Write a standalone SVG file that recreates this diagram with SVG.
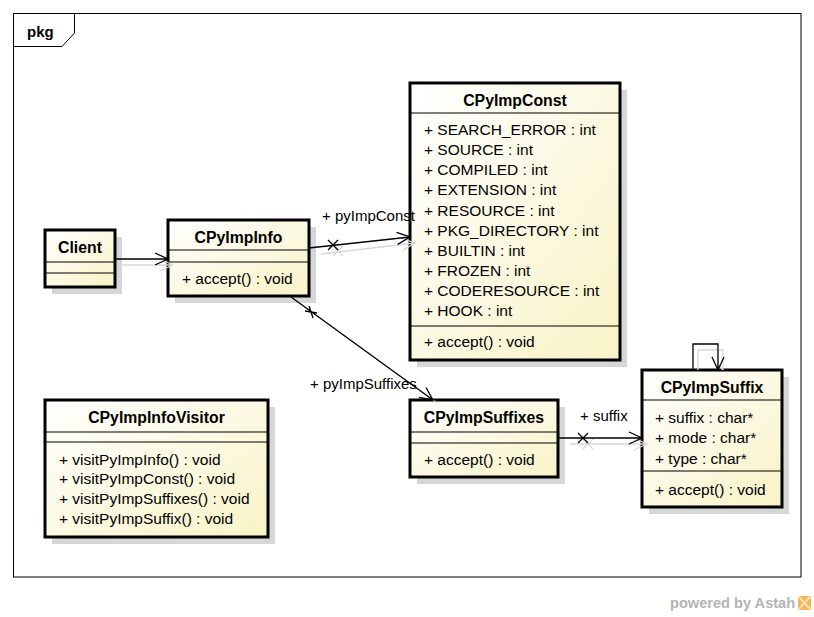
<svg xmlns="http://www.w3.org/2000/svg" width="814" height="617" viewBox="0 0 814 617">
<defs>
<linearGradient id="fill" x1="0" y1="0" x2="1" y2="1">
<stop offset="0" stop-color="#ffffff"/>
<stop offset="1" stop-color="#f8f3c6"/>
</linearGradient>
</defs>
<style>
.box{fill:url(#fill);stroke:#000;stroke-width:3}
.shadow{fill:#d6d6d6}
.sep{stroke:#000;stroke-width:1.2}
.name{font-family:"Liberation Sans",Arial,sans-serif;font-size:15.8px;font-weight:bold;text-anchor:middle;fill:#000}
.mem{font-family:"Liberation Sans",Arial,sans-serif;font-size:15.5px;fill:#000}
.lbl{font-family:"Liberation Sans",Arial,sans-serif;font-size:15px;fill:#000}
.ln{fill:none;stroke:#000;stroke-width:1.3}
.sh{fill:none;stroke:#d8d8d8;stroke-width:1.3}
</style>
<rect x="0" y="0" width="814" height="617" fill="#ffffff"/>
<g id="frame">
<rect x="13.5" y="13.5" width="787.5" height="563.5" fill="none" stroke="#000" stroke-width="1"/>
<path d="M13.5,46.5 H62 L74.5,33 V13.5" fill="none" stroke="#000" stroke-width="1"/>
<text x="27" y="37" font-family="Liberation Sans,Arial,sans-serif" font-size="15px" font-weight="bold">pkg</text>
</g>
<g id="Client">
<rect class="shadow" x="52" y="237" width="70" height="57"/>
<rect class="box" x="45" y="230" width="70" height="57"/>
<line class="sep" x1="45" y1="262" x2="115" y2="262"/>
<line class="sep" x1="45" y1="273" x2="115" y2="273"/>
<text class="name" x="80" y="253">Client</text>
</g>
<g id="CPyImpInfo">
<rect class="shadow" x="175" y="227" width="141" height="76"/>
<rect class="box" x="168" y="220" width="141" height="76"/>
<line class="sep" x1="168" y1="250" x2="309" y2="250"/>
<line class="sep" x1="168" y1="262" x2="309" y2="262"/>
<text class="name" x="238.5" y="243">CPyImpInfo</text>
<text class="mem" x="182" y="284">+ accept() : void</text>
</g>
<g id="CPyImpConst">
<rect class="shadow" x="417" y="90" width="210" height="277"/>
<rect class="box" x="410" y="83" width="210" height="277"/>
<line class="sep" x1="410" y1="113" x2="620" y2="113"/>
<line class="sep" x1="410" y1="326" x2="620" y2="326"/>
<text class="name" x="515" y="106">CPyImpConst</text>
<text class="mem" x="424" y="135">+ SEARCH_ERROR : int</text>
<text class="mem" x="424" y="155">+ SOURCE : int</text>
<text class="mem" x="424" y="175">+ COMPILED : int</text>
<text class="mem" x="424" y="195">+ EXTENSION : int</text>
<text class="mem" x="424" y="216">+ RESOURCE : int</text>
<text class="mem" x="424" y="236">+ PKG_DIRECTORY : int</text>
<text class="mem" x="424" y="256">+ BUILTIN : int</text>
<text class="mem" x="424" y="276">+ FROZEN : int</text>
<text class="mem" x="424" y="296">+ CODERESOURCE : int</text>
<text class="mem" x="424" y="316">+ HOOK : int</text>
<text class="mem" x="424" y="347">+ accept() : void</text>
</g>
<g id="CPyImpSuffixes">
<rect class="shadow" x="417" y="407" width="148" height="77"/>
<rect class="box" x="410" y="400" width="148" height="77"/>
<line class="sep" x1="410" y1="432" x2="558" y2="432"/>
<line class="sep" x1="410" y1="443" x2="558" y2="443"/>
<text class="name" x="484" y="423">CPyImpSuffixes</text>
<text class="mem" x="424" y="465">+ accept() : void</text>
</g>
<g id="CPyImpSuffix">
<rect class="shadow" x="649" y="377" width="140" height="137"/>
<rect class="box" x="642" y="370" width="140" height="137"/>
<line class="sep" x1="642" y1="400" x2="782" y2="400"/>
<line class="sep" x1="642" y1="471" x2="782" y2="471"/>
<text class="name" x="712" y="393">CPyImpSuffix</text>
<text class="mem" x="655" y="423">+ suffix : char*</text>
<text class="mem" x="655" y="443">+ mode : char*</text>
<text class="mem" x="655" y="464">+ type : char*</text>
<text class="mem" x="655" y="495">+ accept() : void</text>
</g>
<g id="CPyImpInfoVisitor">
<rect class="shadow" x="52" y="407" width="223" height="137"/>
<rect class="box" x="45" y="400" width="223" height="137"/>
<line class="sep" x1="45" y1="432" x2="268" y2="432"/>
<line class="sep" x1="45" y1="442" x2="268" y2="442"/>
<text class="name" x="156.5" y="423">CPyImpInfoVisitor</text>
<text class="mem" x="59" y="465">+ visitPyImpInfo() : void</text>
<text class="mem" x="59" y="484">+ visitPyImpConst() : void</text>
<text class="mem" x="59" y="504">+ visitPyImpSuffixes() : void</text>
<text class="mem" x="59" y="524">+ visitPyImpSuffix() : void</text>
</g>
<g id="connectors">
<g transform="translate(5,6)">
<path class="sh" d="M115,259 H168 M155,253 L168,259 L155,265"/>
<path class="sh" d="M316,248 L410,237 M397.8,244.4 L410,237 L396.5,232.4 M328,240 L338,250 M328,250 L338,240"/>
<path class="sh" d="M565,438 H642 M629,432 L642,438 L629,444 M578,433 L588,443 M578,443 L588,433"/>
<path class="sh" d="M693,364 V344 H718 V364 M712,357 L718,364"/>
</g>
<path class="sh" d="M301,304 L437,403"/>
<path class="ln" d="M115,259 H168 M155,253 L168,259 L155,265"/>
<path class="ln" d="M309,248 L410,237 M397.8,244.4 L410,237 L396.5,232.4 M328,240 L338,250 M328,250 L338,240"/>
<path class="ln" d="M291,297 L433,400 M419,397.3 L433,400 L426,387.5 M305,311 L317,313 M309,306 L313,318"/>
<path class="ln" d="M558,438 H642 M629,432 L642,438 L629,444 M578,433 L588,443 M578,443 L588,433"/>
<path class="ln" d="M693,370 V344 H718 V370 M712,357 L718,370 L724,357"/>
<text class="lbl" x="322" y="221">+ pyImpConst</text>
<text class="lbl" x="310" y="389">+ pyImpSuffixes</text>
<text class="lbl" x="580" y="421">+ suffix</text>
</g>
<g id="watermark">
<text x="670" y="608" font-family="Liberation Sans,Arial,sans-serif" font-size="14.6px" font-weight="bold" fill="#b4b4b4">powered by Astah</text>
<rect x="798" y="596" width="13" height="14" fill="#f5b55a"/>
<path d="M798,596 L811,610 M811,596 L798,610" stroke="#fbe0b0" stroke-width="2"/>
</g>
</svg>
